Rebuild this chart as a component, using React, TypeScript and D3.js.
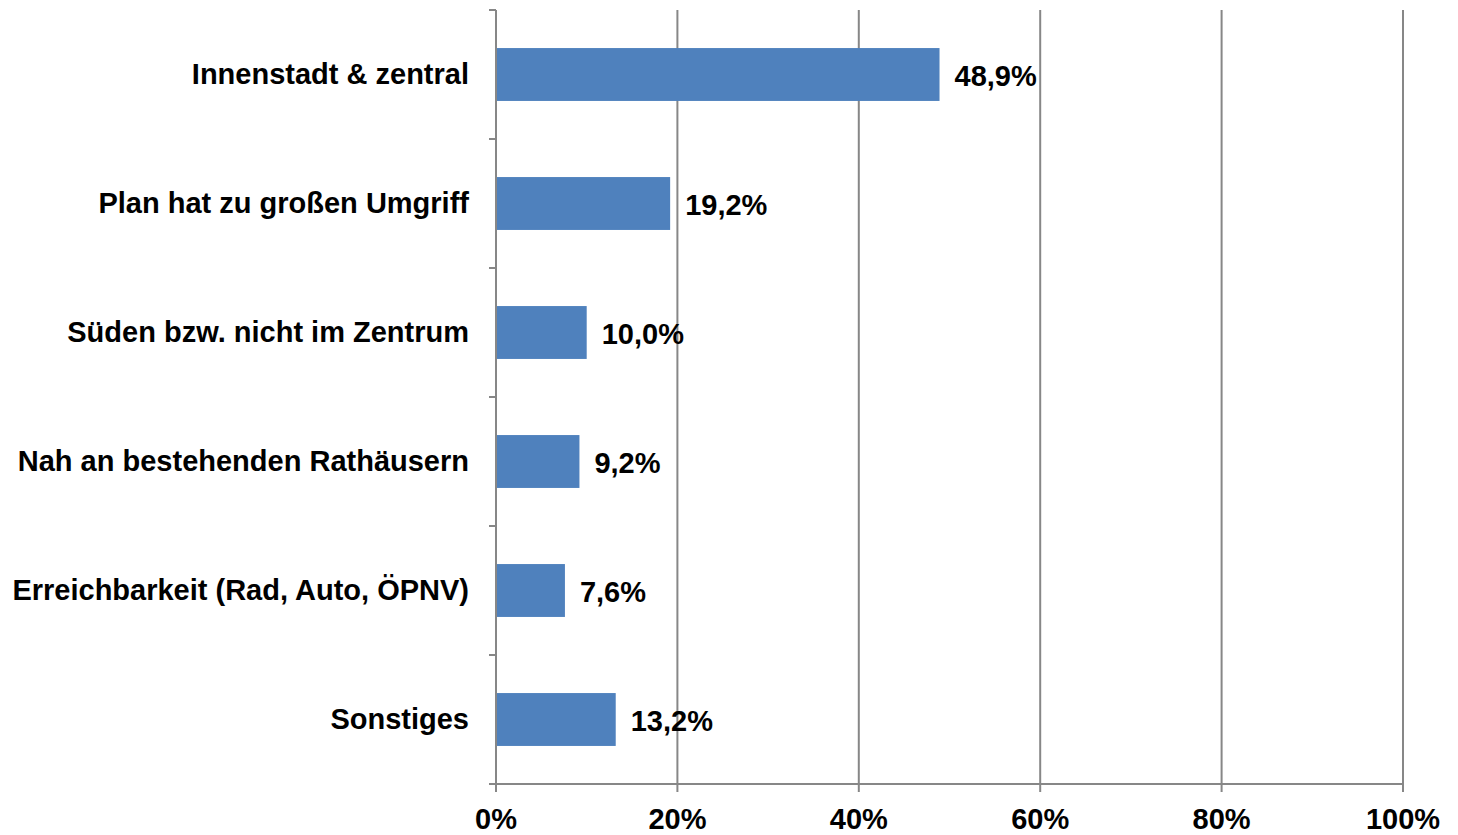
import React, { useEffect, useRef } from 'react';
import * as d3 from 'd3';

// Chart data
const categories = [
  'Innenstadt & zentral',
  'Plan hat zu großen Umgriff',
  'Süden bzw. nicht im Zentrum',
  'Nah an bestehenden Rathäusern',
  'Erreichbarkeit (Rad, Auto, ÖPNV)',
  'Sonstiges',
];
const values = [48.9, 19.2, 10.0, 9.2, 7.6, 13.2];
const xTicks = [0, 20, 40, 60, 80, 100];

const W = 1458;
const H = 835;

const App = () => {
  const svgRef = useRef<SVGSVGElement | null>(null);

  useEffect(() => {
    const svg = d3.select(svgRef.current);
    svg.selectAll('*').remove();

    const left = 496;
    const right = 1403;
    const top = 10;
    const bottom = 784;
    const font = '"Liberation Sans", Arial, sans-serif';
    const fontSize = 29;
    const axisColor = '#878787';

    const x = d3.scaleLinear().domain([0, 100]).range([left, right]);
    const y = d3
      .scaleBand<string>()
      .domain(categories)
      .range([top, bottom])
      .paddingInner(0.59)
      .paddingOuter(0.295);
    const step = y.step();

    // ── Gridlines ───────────────────────────────────────────
    svg
      .append('g')
      .selectAll('line')
      .data(xTicks.slice(1))
      .join('line')
      .attr('x1', (d) => x(d))
      .attr('x2', (d) => x(d))
      .attr('y1', top)
      .attr('y2', bottom)
      .attr('stroke', axisColor)
      .attr('stroke-width', 2);

    // ── Bars ────────────────────────────────────────────────
    const rows = categories.map((c, i) => ({ c, v: values[i] }));
    svg
      .append('g')
      .selectAll('rect')
      .data(rows)
      .join('rect')
      .attr('x', x(0))
      .attr('y', (d) => y(d.c)!)
      .attr('width', (d) => x(d.v) - x(0))
      .attr('height', y.bandwidth())
      .attr('fill', '#4F81BD');

    // ── Y axis (line + ticks at band edges) ─────────────────
    const yAxis = svg.append('g').attr('stroke', axisColor).attr('stroke-width', 2);
    yAxis.append('line').attr('x1', left).attr('x2', left).attr('y1', top).attr('y2', bottom + 8);
    yAxis
      .selectAll('line.tick')
      .data(d3.range(categories.length + 1))
      .join('line')
      .attr('class', 'tick')
      .attr('x1', left - 7)
      .attr('x2', left)
      .attr('y1', (i) => top + i * step)
      .attr('y2', (i) => top + i * step);

    // ── X axis ──────────────────────────────────────────────
    const xAxis = svg.append('g');
    xAxis
      .append('line')
      .attr('x1', left - 7)
      .attr('x2', right)
      .attr('y1', bottom)
      .attr('y2', bottom)
      .attr('stroke', axisColor)
      .attr('stroke-width', 2);
    xAxis
      .selectAll('line.tick')
      .data(xTicks)
      .join('line')
      .attr('class', 'tick')
      .attr('x1', (d) => x(d))
      .attr('x2', (d) => x(d))
      .attr('y1', bottom)
      .attr('y2', bottom + 8)
      .attr('stroke', axisColor)
      .attr('stroke-width', 2);
    xAxis
      .selectAll('text')
      .data(xTicks)
      .join('text')
      .attr('x', (d) => x(d))
      .attr('y', 829)
      .attr('text-anchor', 'middle')
      .style('font', `bold ${fontSize}px ${font}`)
      .text((d) => `${d}%`);

    // ── Category labels ─────────────────────────────────────
    svg
      .append('g')
      .selectAll('text')
      .data(rows)
      .join('text')
      .attr('x', left - 27)
      .attr('y', (d) => y(d.c)! + y.bandwidth() / 2)
      .attr('dy', '0.33em')
      .attr('text-anchor', 'end')
      .style('font', `bold ${fontSize}px ${font}`)
      .text((d) => d.c);

    // ── Value labels ────────────────────────────────────────
    svg
      .append('g')
      .selectAll('text')
      .data(rows)
      .join('text')
      .attr('x', (d) => x(d.v) + 15)
      .attr('y', (d) => y(d.c)! + y.bandwidth() / 2)
      .attr('dy', '0.38em')
      .style('font', `bold ${fontSize}px ${font}`)
      .text((d) => d.v.toFixed(1).replace('.', ',') + '%');
  }, []);

  return (
    <svg
      ref={svgRef}
      width={W}
      height={H}
      style={{ position: 'absolute', left: 0, top: 0, background: '#fff' }}
    />
  );
};

export default App;
